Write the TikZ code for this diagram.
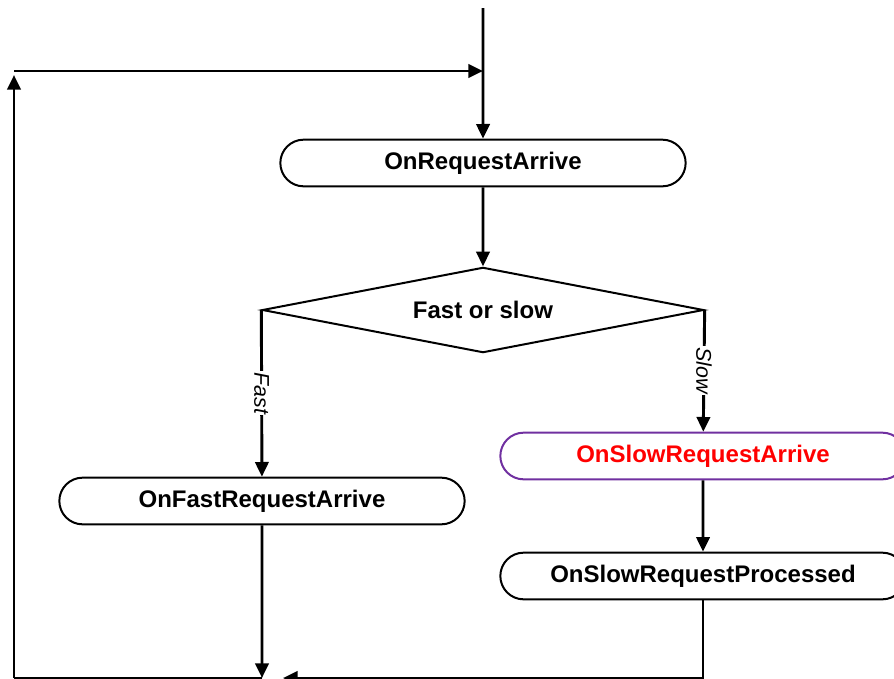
\documentclass[tikz,border=0pt]{standalone}
\usepackage{fontspec}
\setmainfont{Liberation Sans}
\usepackage{tikz}
\usetikzlibrary{arrows.meta}
\usetikzlibrary{shapes}
\definecolor{slowpurple}{RGB}{112,48,160}
\tikzset{event/.style={draw, rounded rectangle, line width=1.5pt,
    minimum width=304pt, minimum height=35pt, inner sep=0pt,
    font=\fontsize{18}{21}\selectfont\bfseries}}
\tikzset{decision/.style={draw, diamond, aspect=5.2, line width=1.5pt,
    minimum width=331pt, minimum height=64pt, inner sep=0pt,
    font=\fontsize{18}{21}\selectfont\bfseries}}
\tikzset{tag/.style={fill=white, inner sep=1pt, rotate=-90,
    font=\fontsize{16}{18}\selectfont\itshape}}

\begin{document}
\begin{tikzpicture}[x=0.75pt, y=-0.75pt, line width=2.2pt,
    >={Triangle[length=11pt,width=10pt]}]
  \useasboundingbox (0,0) rectangle (894,679);
  \clip (0,0) rectangle (894,679);
  \node[event] (arrive) at (483,163) {OnRequestArrive};
  \node[decision] (kind) at (483,310) {Fast or slow};
  \node[event] (fast) at (262,501) {OnFastRequestArrive};
  \node[event, draw=slowpurple, text=red] (slow) at (703,456) {OnSlowRequestArrive};
  \node[event] (done) at (703,576) {OnSlowRequestProcessed};
  \coordinate (entry) at (483,8);
  \coordinate (back) at (483,71);
  \coordinate (corner) at (14,71);
  \coordinate (up) at (14,75);
  \coordinate (bottom) at (14,678);
  \coordinate (merge) at (262,678);
  \coordinate (join) at (283,678);
  \draw[->] (entry) -- (arrive);
  \draw[->] (arrive) -- (kind);
  \draw[->] (kind.west) -- node[tag] {Fast} (fast);
  \draw[->] (kind.east) -- node[tag] {Slow} (slow);
  \draw[->] (slow) -- (done);
  \draw[->] (fast) -- (merge);
  \draw[->] (done) |- (join);
  \draw (merge) -- (bottom);
  \draw[->] (bottom) -- (up);
  \draw[->] (corner) -- (back);
\end{tikzpicture}
\end{document}
